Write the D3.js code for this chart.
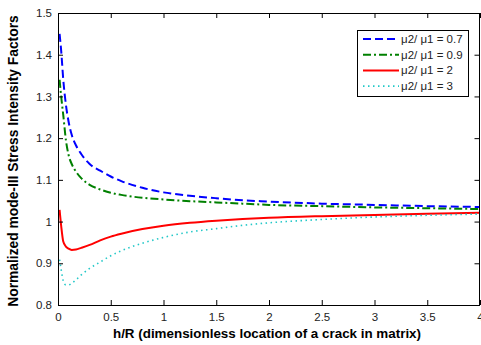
<!DOCTYPE html>
<html>
<head>
<meta charset="utf-8">
<script src="https://cdn.jsdelivr.net/npm/d3@7/dist/d3.min.js"></script>
<style>
  body { margin: 0; background: #fff; }
  svg { display: block; font-family: "Liberation Sans", Arial, sans-serif; }
</style>
</head>
<body>
<div id="chart"></div>
<script>
// h/R sample points (shared by all curves)
const hR = [0.015, 0.03, 0.05, 0.075, 0.1, 0.13, 0.17, 0.22, 0.3, 0.4, 0.5, 0.6, 0.8, 1, 1.25, 1.5, 1.75, 2, 2.5, 3, 3.5, 4];

const sif07 = [1.45, 1.41, 1.34, 1.28, 1.24, 1.208, 1.183, 1.162, 1.138, 1.122, 1.108, 1.097, 1.081, 1.070, 1.062, 1.056, 1.051, 1.048, 1.043, 1.040, 1.037, 1.035];
const sif09 = [1.34, 1.30, 1.255, 1.195, 1.16, 1.138, 1.12, 1.104, 1.088, 1.077, 1.069, 1.064, 1.057, 1.053, 1.049, 1.046, 1.043, 1.040, 1.037, 1.034, 1.032, 1.030];
const sif2  = [1.028, 0.99, 0.952, 0.94, 0.935, 0.932, 0.933, 0.937, 0.944, 0.955, 0.964, 0.971, 0.982, 0.990, 0.997, 1.002, 1.006, 1.009, 1.013, 1.016, 1.019, 1.021];
const sif3  = [0.909, 0.885, 0.858, 0.848, 0.848, 0.852, 0.86, 0.872, 0.888, 0.903, 0.918, 0.930, 0.948, 0.962, 0.975, 0.983, 0.991, 0.997, 1.005, 1.011, 1.015, 1.018];

const seriesNames = ["\u03bc2/ \u03bc1 = 0.7", "\u03bc2/ \u03bc1 = 0.9", "\u03bc2/ \u03bc1 = 2", "\u03bc2/ \u03bc1 = 3"];
const xTicks = [0, 0.5, 1, 1.5, 2, 2.5, 3, 3.5, 4];
const yTicks = [0.8, 0.9, 1, 1.1, 1.2, 1.3, 1.4, 1.5];

const W = 481, H = 345;
const margin = {left: 58, top: 13, right: 1, bottom: 40};

const svg = d3.select("#chart").append("svg").attr("width", W).attr("height", H);

const x = d3.scaleLinear().domain([0, 4]).range([margin.left, W - margin.right]);
const y = d3.scaleLinear().domain([0.8, 1.5]).range([H - margin.bottom, margin.top]);

// series styling (line type per MATLAB: --, -., -, :)
const styles = [
  {color: "#0000ff", dash: "8,4", width: 2},
  {color: "#008000", dash: "8,3,2,3", width: 2},
  {color: "#ff0000", dash: null, width: 2},
  {color: "#22c8c8", dash: "1.5,3.5", width: 1.6}
];
const allSeries = [sif07, sif09, sif2, sif3];

const line = d3.line()
  .x((d, i) => x(hR[i]))
  .y(d => y(d))
  .curve(d3.curveMonotoneX);

svg.append("defs").append("clipPath").attr("id", "clip")
  .append("rect")
  .attr("x", margin.left).attr("y", margin.top)
  .attr("width", W - margin.right - margin.left)
  .attr("height", H - margin.bottom - margin.top);

const g = svg.append("g").attr("clip-path", "url(#clip)");
allSeries.forEach((s, k) => {
  g.append("path")
    .datum(s)
    .attr("d", line)
    .attr("fill", "none")
    .attr("stroke", styles[k].color)
    .attr("stroke-width", styles[k].width)
    .attr("stroke-dasharray", styles[k].dash);
});

// axes, ticks pointing inward on all four sides
const x0 = margin.left, x1 = W - margin.right, y0 = H - margin.bottom, y1 = margin.top;
const tl = 5;

const axB = svg.append("g").attr("transform", `translate(0,${y0})`)
  .call(d3.axisBottom(x).tickValues(xTicks).tickSize(-tl).tickPadding(8).tickFormat(d3.format("")));
const axT = svg.append("g").attr("transform", `translate(0,${y1})`)
  .call(d3.axisTop(x).tickValues(xTicks).tickSize(-tl).tickFormat(""));
const axL = svg.append("g").attr("transform", `translate(${x0},0)`)
  .call(d3.axisLeft(y).tickValues(yTicks).tickSize(-tl).tickPadding(6).tickFormat(d3.format("")));
const axR = svg.append("g").attr("transform", `translate(${x1 - 0.5},0)`)
  .call(d3.axisRight(y).tickValues(yTicks).tickSize(-tl).tickFormat(""));

[axB, axT, axL, axR].forEach(a => {
  a.select(".domain").remove();
  a.selectAll(".tick line").attr("stroke", "#000");
  a.selectAll("text").attr("font-size", 11.5).attr("fill", "#222")
    .attr("font-family", "'Liberation Sans', Arial, sans-serif");
});

svg.append("rect")
  .attr("x", x0 + 0.5).attr("y", y1 + 0.5)
  .attr("width", x1 - x0 - 1).attr("height", y0 - y1)
  .attr("fill", "none").attr("stroke", "#000").attr("stroke-width", 1);

// axis labels
svg.append("text")
  .attr("x", 267).attr("y", 338)
  .attr("text-anchor", "middle")
  .attr("font-size", 13.4).attr("font-weight", "bold")
  .text("h/R (dimensionless location of a crack in matrix)");

svg.append("text")
  .attr("transform", `translate(18,${(y0 + y1) / 2 + 2}) rotate(-90)`)
  .attr("text-anchor", "middle")
  .attr("font-size", 13.8).attr("font-weight", "bold")
  .text("Normalized mode-III Stress Intensity Factors");

// legend
const lg = svg.append("g").attr("transform", "translate(357,30)");
lg.append("rect")
  .attr("x", 0.5).attr("y", 0.5).attr("width", 111).attr("height", 66)
  .attr("fill", "#fff").attr("stroke", "#000");
seriesNames.forEach((name, k) => {
  const ly = 9 + k * 15.7;
  lg.append("line")
    .attr("x1", 6).attr("x2", 42).attr("y1", ly).attr("y2", ly)
    .attr("stroke", styles[k].color)
    .attr("stroke-width", styles[k].width)
    .attr("stroke-dasharray", styles[k].dash);
  lg.append("text")
    .attr("x", 44).attr("y", ly + 4)
    .attr("font-size", 11.5).attr("fill", "#222")
    .text(name);
});
</script>
</body>
</html>
